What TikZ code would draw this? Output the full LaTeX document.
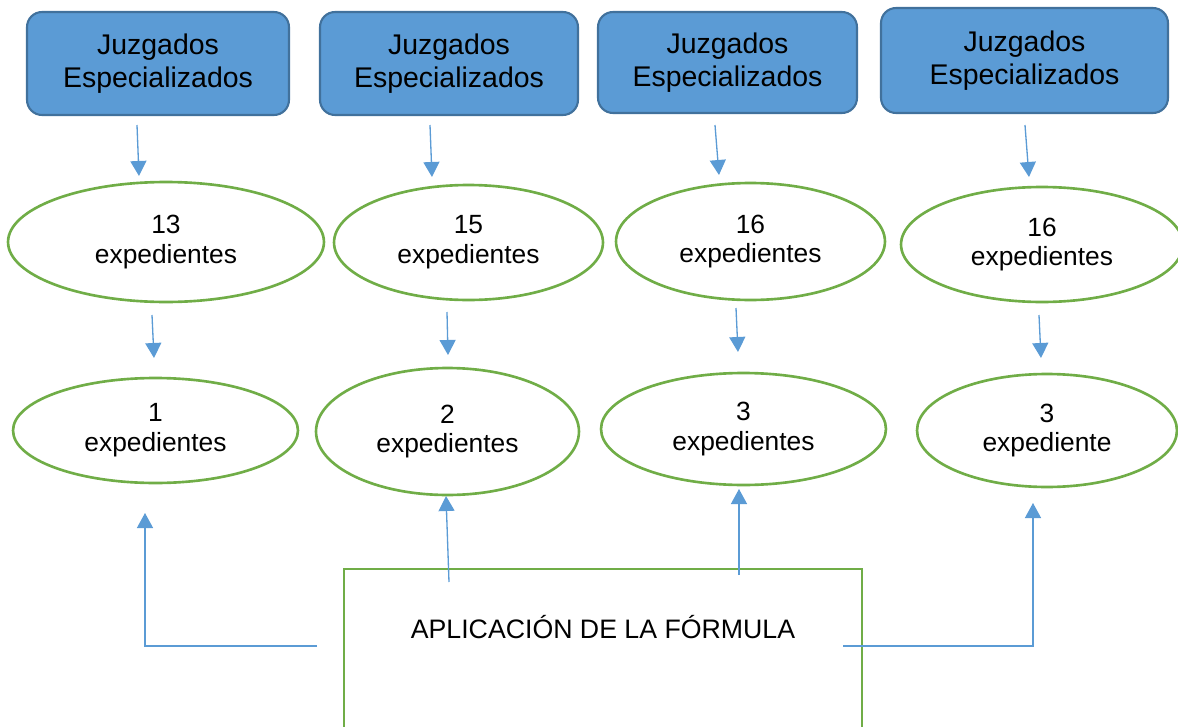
\documentclass[tikz,border=0pt]{standalone}
\usepackage{fontspec}
\setmainfont{Liberation Sans}
\usetikzlibrary{shapes.geometric,arrows.meta}
\definecolor{boxblue}{HTML}{5B9BD5}
\definecolor{boxedge}{HTML}{41719C}
\definecolor{ovalgreen}{HTML}{70AD47}
\tikzset{
  juzgado/.style={draw=boxedge, line width=1.2pt, fill=boxblue, rounded corners=0.3cm, align=center, inner sep=0pt, font=\fontsize{16.2}{19}\selectfont},
  oval/.style={draw=ovalgreen, line width=1.5pt, ellipse, align=center, inner sep=0pt, font=\fontsize{15}{17}\selectfont},
  formulabox/.style={draw=ovalgreen, line width=1.5pt, inner sep=0pt, font=\fontsize{15.2}{17}\selectfont},
  flow/.style={draw=boxblue, line width=0.75pt, -{Triangle[width=0.32cm,length=0.3cm]}}
}
\begin{document}
\begin{tikzpicture}[x=0.02cm, y=-0.02cm]
	\useasboundingbox (0,0) rectangle (1178,727);
	\node[juzgado, minimum width=5.24cm, minimum height=2.06cm] (b1) at (158,63.5) {Juzgados\\Especializados};
	\node[juzgado, minimum width=5.16cm, minimum height=2.06cm] (b2) at (449,63.5) {Juzgados\\Especializados};
	\node[juzgado, minimum width=5.18cm, minimum height=2.02cm] (b3) at (727.5,62.5) {Juzgados\\Especializados};
	\node[juzgado, minimum width=5.74cm, minimum height=2.1cm] (b4) at (1024.5,60.5) {Juzgados\\Especializados};
	\node[oval, minimum width=6.32cm, minimum height=2.4cm] (n1) at (166,242) {13\\expedientes};
	\node[oval, minimum width=5.38cm, minimum height=2.3cm] (n2) at (468.5,242.5) {15\\expedientes};
	\node[oval, minimum width=5.38cm, minimum height=2.34cm] (n3) at (750.5,241.5) {16\\expedientes};
	\node[oval, minimum width=5.64cm, minimum height=2.3cm] (n4) at (1042,244.5) {16\\expedientes};
	\node[oval, minimum width=5.7cm, minimum height=2.1cm] (r1) at (155.5,430.5) {1\\expedientes};
	\node[oval, minimum width=5.26cm, minimum height=2.54cm] (r2) at (447.5,431.5) {2\\expedientes};
	\node[oval, minimum width=5.7cm, minimum height=2.24cm] (r3) at (743.5,429) {3\\expedientes};
	\node[oval, minimum width=5.2cm, minimum height=2.26cm] (r4) at (1047,430.5) {3\\expediente};
	\node[formulabox, anchor=base, text height=1.38cm, text depth=2cm, minimum width=10.36cm] (formula) at (603,638) {APLICACIÓN DE LA FÓRMULA};
	\coordinate (b1o) at (137,125);
	\coordinate (b2o) at (430,125);
	\coordinate (b3o) at (715,125);
	\coordinate (b4o) at (1025,125);
	\coordinate (n1i) at (139,176);
	\coordinate (n2i) at (432,177);
	\coordinate (n3i) at (719,175);
	\coordinate (n4i) at (1029,177);
	\coordinate (n1o) at (152,315);
	\coordinate (n2o) at (447,312);
	\coordinate (n3o) at (736,308);
	\coordinate (n4o) at (1039,315);
	\coordinate (r1i) at (154,358);
	\coordinate (r2i) at (448,355);
	\coordinate (r3i) at (738,352);
	\coordinate (r4i) at (1041,358);
	\coordinate (fl) at (317,646);
	\coordinate (fr) at (843,646);
	\coordinate (f2) at (449,582);
	\coordinate (f3) at (739,575);
	\coordinate (r1b) at (145,513);
	\coordinate (r2b) at (446,496);
	\coordinate (r3b) at (739,489);
	\coordinate (r4b) at (1033,503);
	\draw[flow] (b1o) -- (n1i);
	\draw[flow] (b2o) -- (n2i);
	\draw[flow] (b3o) -- (n3i);
	\draw[flow] (b4o) -- (n4i);
	\draw[flow] (n1o) -- (r1i);
	\draw[flow] (n2o) -- (r2i);
	\draw[flow] (n3o) -- (r3i);
	\draw[flow] (n4o) -- (r4i);
	\draw[flow] (fl) -| (r1b);
	\draw[flow] (f2) -- (r2b);
	\draw[flow] (f3) -- (r3b);
	\draw[flow] (fr) -| (r4b);
\end{tikzpicture}
\end{document}
